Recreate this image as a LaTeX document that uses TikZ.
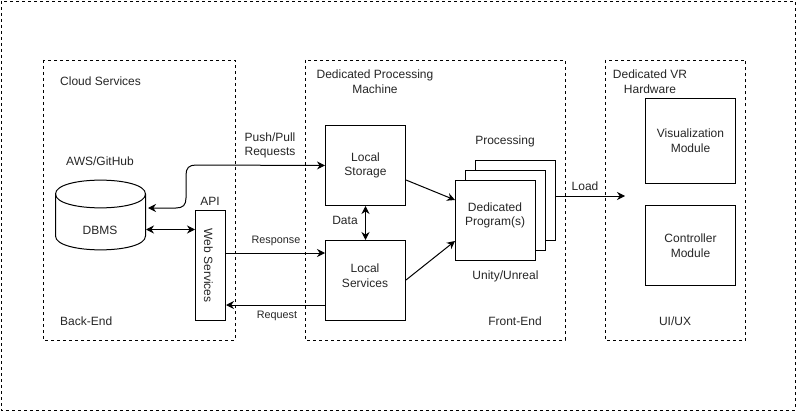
\documentclass[tikz,border=0pt]{standalone}
\usepackage{fontspec}
\setmainfont{Liberation Sans}
\usetikzlibrary{arrows.meta,shapes.geometric}
\tikzset{
  dashbox/.style={draw=black,line width=0.9pt,dash pattern=on 3pt off 3pt},
  solidbox/.style={draw=black,line width=1pt,fill=white,align=center,inner sep=0pt,anchor=north west},
  boxtext/.style={text=black!85,align=center,inner sep=0pt,font=\fontsize{12}{14.6}\selectfont},
  lbl/.style={boxtext,yshift=-0.5pt},
  smalllbl/.style={lbl,font=\fontsize{10.8}{13}\selectfont},
  conn/.style={draw=black,line width=1pt},
  tip/.style={-{Stealth[length=8pt,width=8pt]}},
  bitip/.style={{Stealth[length=8pt,width=8pt]}-{Stealth[length=8pt,width=8pt]}}
}
\begin{document}
\begin{tikzpicture}[x=1pt,y=-1pt]
\useasboundingbox (0,0) rectangle (796,412);
\fill[white] (0,0) rectangle (796,412);
\draw[dashbox] (1,1) rectangle (795,410);
\draw[dashbox] (43,60) rectangle (235,340);
\draw[dashbox] (305,60) rectangle (565,340);
\draw[dashbox] (605,60) rectangle (745.5,340);

\node[solidbox,minimum width=80pt,minimum height=80pt,boxtext] (storage) at (325,125) {Local\\Storage};
\node[solidbox,minimum width=80pt,minimum height=80pt] (services) at (325,240) {};
\node[lbl] (servicesl) at (365,275.5) {Local\\Services};
\node[solidbox,minimum width=30pt,minimum height=110pt] (web) at (195,210) {};
\node[boxtext,rotate=-90] (webl) at (208.5,265.5) {Web Services};
\node[solidbox,minimum width=80pt,minimum height=80pt] (p3) at (475,160) {};
\node[solidbox,minimum width=80pt,minimum height=80pt] (p2) at (465,170) {};
\node[solidbox,minimum width=80pt,minimum height=80pt] (p1) at (455,180) {};
\node[lbl] (p1l) at (495,215) {Dedicated\\Program(s)};
\node[solidbox,minimum width=90pt,minimum height=85pt,boxtext] (vis) at (645,98) {Visualization\\Module};
\node[solidbox,minimum width=90pt,minimum height=80pt,boxtext] (ctrl) at (645,205) {Controller\\Module};

% cylinder
\draw[line width=1pt,fill=white] (55.5,194) .. controls (55.5,175.5) and (145.5,175.5) .. (145.5,194)
  -- (145.5,236) .. controls (145.5,254.5) and (55.5,254.5) .. (55.5,236) -- cycle;
\draw[line width=1pt] (55.5,194) .. controls (55.5,212.5) and (145.5,212.5) .. (145.5,194);
\node[lbl] (dbms) at (100,230) {DBMS};
\coordinate (dbtop) at (148,208);
\coordinate (dbside) at (146,229.5);
\coordinate (loadend) at (625,196);

\draw[conn,bitip] (dbtop) -- (176,208) .. controls (183,208) and (186,205) .. (186,198) -- (186,175) .. controls (186,168) and (189,165) .. (196,165) -- (storage.west);
\draw[conn,bitip] (dbside) -- (web.west |- dbside);
\draw[conn,tip] (web.east |- 0,253) -- (services.west |- 0,253);
\draw[conn,tip] (services.west |- 0,305) -- (web.east |- 0,305);
\draw[conn,bitip] (storage.south) -- (services.north);
\draw[conn,tip] (storage.east |- 0,180) -- (p1.west |- 0,200);
\draw[conn,tip] (services.east |- 0,280) -- (p1.west |- 0,241);
\draw[conn,tip] (p3.east |- 0,196) -- (loadend);

\node[lbl,anchor=west] (t1) at (60,80.5) {Cloud Services};
\node[lbl] (t2) at (100,160.5) {AWS/GitHub};
\node[lbl] (t3) at (210,200.5) {API};
\node[lbl,anchor=west] (t4) at (60,320.5) {Back-End};
\node[lbl] (t5) at (270,145) {Push/Pull\\Requests};
\node[smalllbl] (t6) at (276,240) {Response};
\node[smalllbl] (t7) at (277,315) {Request};
\node[lbl] (t8) at (345,220) {Data};
\node[lbl] (t9) at (375,81) {Dedicated Processing\\Machine};
\node[lbl] (t10) at (505,141) {Processing};
\node[lbl] (t11) at (505.5,276) {Unity/Unreal};
\node[lbl] (t12) at (515,320.5) {Front-End};
\node[lbl] (t13) at (585,186) {Load};
\node[lbl] (t14) at (650,81) {Dedicated VR\\Hardware};
\node[lbl] (t15) at (675,320.5) {UI/UX};
\end{tikzpicture}
\end{document}
